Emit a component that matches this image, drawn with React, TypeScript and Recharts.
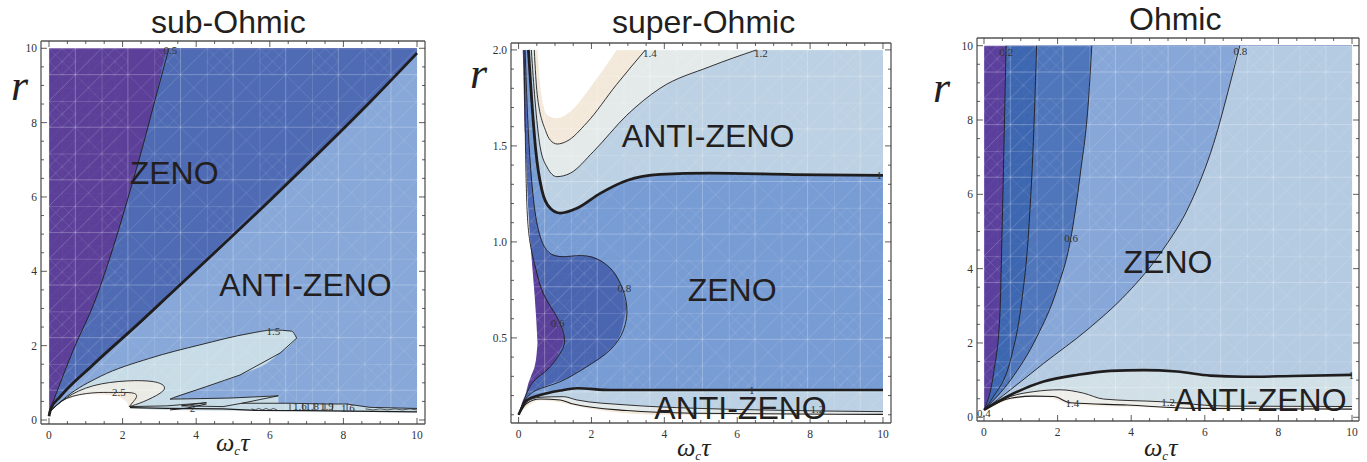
import React from 'react';
import { ComposedChart, Area, Line, XAxis, YAxis, ReferenceDot } from 'recharts';

type Curve = number[][];

const xTicks = [0, 0.5, 1, 1.5, 2, 2.5, 3, 3.5, 4, 4.5, 5, 5.5, 6, 6.5, 7, 7.5, 8, 8.5, 9, 9.5, 10];
const xMajor = [0, 2, 4, 6, 8, 10];
const superYTicks = [0.1, 0.2, 0.3, 0.4, 0.5, 0.6, 0.7, 0.8, 0.9, 1, 1.1, 1.2, 1.3, 1.4, 1.5, 1.6, 1.7, 1.8, 1.9, 2];
const superYMajor = [0.5, 1, 1.5, 2];

// sub-Ohmic contours
const subC05: Curve = [[0, 0.2], [0.2, 0.72], [0.66, 1.88], [1.26, 3.23], [1.75, 4.66], [2.29, 6.46], [2.47, 7.08], [2.88, 8.6], [3.26, 10]];
const subC1: Curve = [[0, 0.1], [0.05, 0.3], [0.3, 0.62], [1.17, 1.46], [2.53, 2.68], [3.2, 3.3], [6.1, 6], [8.77, 8.6], [10, 9.87]];
const subC15Top: Curve = [[0, 0.2], [0.48, 0.63], [1.39, 1.17], [2.74, 1.66], [4.1, 2.02], [5.46, 2.33], [6.1, 2.42], [6.59, 2.39], [6.73, 2.2]];
const subC15Low: Curve = [[6.73, 2.2], [6.28, 1.8], [5.19, 1.21], [4.78, 1.07], [4.28, 0.9], [3.38, 0.6], [3.29, 0.56], [4.92, 0.59], [6.23, 0.65], [5.24, 0.45]];
const subInlet: Curve = [[3.29, 0.56, 0.56], [3.38, 0.565, 0.6], [4.28, 0.58, 0.9], [5.19, 0.6, 1.21], [6.23, 0.65, 1.77], [6.24, 0.45, 1.78], [6.46, 0.45, 1.93], [6.73, 0.45, 2.2]];
const subC2: Curve = [[0, 0.2], [0.48, 0.6], [1.2, 0.92], [2.11, 1.05], [2.84, 1.03], [3.13, 0.9], [3.02, 0.72], [2.56, 0.49], [2.18, 0.36]];
const subC2Fill: Curve = [[0, 0.2, 0.2], [0.48, 0.4, 0.6], [1.2, 0.5, 0.92], [2.11, 0.36, 1.05], [2.18, 0.36, 1.06], [2.56, 0.49, 1.05], [2.84, 0.63, 1.03], [3.02, 0.72, 0.97], [3.13, 0.9, 0.9]];
const subC25: Curve = [[0, 0.2], [0.48, 0.58], [1.2, 0.73], [1.75, 0.74], [2.25, 0.73], [2.38, 0.63], [2.29, 0.49], [2.18, 0.36]];
const subC25Fill: Curve = [[0, 0.2, 0.2], [1.2, 0.5, 0.73], [1.75, 0.5, 0.74], [2.18, 0.36, 0.73], [2.29, 0.49, 0.72], [2.38, 0.63, 0.63]];
const subStripTop: Curve = [[2.2, 0.36], [3.2, 0.38], [4.28, 0.465], [3.6, 0.38], [4.73, 0.36], [5.24, 0.45], [6.55, 0.45], [7.55, 0.43], [8.09, 0.43], [8.72, 0.34], [10, 0.31]];
const subStripFill: Curve = [[2.2, 0.36], [3.2, 0.38], [4.28, 0.44], [5.24, 0.45], [6.55, 0.45], [7.55, 0.43], [8.09, 0.43], [8.72, 0.34], [10, 0.31]];
const subStripLow: Curve = [[2.2, 0.33], [3.2, 0.31], [4.73, 0.3], [5.6, 0.26], [7, 0.25], [10, 0.22]];
const subIsland: Curve = [[3.29, 0.27], [3.75, 0.32], [4.28, 0.43]];
const subWigA: Curve = [[5.5, 0.3], [5.6, 0.27], [5.7, 0.31], [5.8, 0.27], [5.9, 0.31], [6, 0.27], [6.1, 0.31], [6.2, 0.27]];
const subWigB: Curve = [[8.6, 0.3], [8.8, 0.27], [9, 0.3], [9.2, 0.27], [9.4, 0.3], [9.6, 0.27], [9.8, 0.3], [10, 0.27]];
const subStems = [6.55, 6.9, 7.2, 7.5, 7.7, 8.1];
const subWhite: Curve = [[0, 0.18], [0.48, 0.55], [1.2, 0.69], [1.75, 0.65], [2.1, 0.5], [2.2, 0.33], [3.2, 0.27], [5, 0.25], [7, 0.23], [10, 0.2]];

// super-Ohmic contours
const supTan: Curve = [[0.52, 2], [0.62, 1.774], [0.79, 1.661], [1.05, 1.644], [1.42, 1.679], [2.05, 1.826], [2.69, 2]];
const supC14: Curve = [[0.43, 2], [0.51, 1.77], [0.74, 1.58], [0.87, 1.53], [1.06, 1.51], [1.32, 1.524], [1.87, 1.62], [2.69, 1.82], [3.48, 2]];
const supC12: Curve = [[0.35, 2], [0.45, 1.74], [0.59, 1.497], [0.78, 1.39], [1.05, 1.34], [1.42, 1.358], [2.05, 1.47], [2.97, 1.66], [3.88, 1.8], [5.25, 1.913], [6.53, 2]];
const supC1: Curve = [[0.27, 2], [0.36, 1.74], [0.47, 1.48], [0.64, 1.27], [0.87, 1.175], [1.14, 1.15], [1.6, 1.175], [2.24, 1.253], [2.97, 1.32], [3.88, 1.352], [5.25, 1.358], [7.53, 1.351], [10, 1.347]];
const supC08: Curve = [[0.18, 2], [0.27, 1.566], [0.41, 1.22], [0.59, 1.03], [0.87, 0.94], [1.32, 0.924], [1.87, 0.927], [2.42, 0.88], [2.79, 0.785], [2.97, 0.663], [2.88, 0.542], [2.51, 0.437], [1.87, 0.35], [1.14, 0.272], [0.5, 0.229], [0.15, 0.17], [0, 0.1]];
const supC08Fill: Curve = [[0, 0.1, 0.1], [0.15, 0.17, 2], [0.27, 0.2, 1.566], [0.5, 0.229, 1.11], [0.87, 0.26, 0.94], [1.32, 0.29, 0.924], [1.87, 0.35, 0.927], [2.42, 0.425, 0.88], [2.79, 0.52, 0.785], [2.97, 0.663, 0.663]];
const supC06: Curve = [[0.15, 2], [0.2, 1.39], [0.28, 1.045], [0.46, 0.87], [0.68, 0.73], [1.05, 0.61], [1.26, 0.498], [1.14, 0.42], [0.78, 0.333], [0.37, 0.264], [0.12, 0.16], [0, 0.1]];
const supC06Fill: Curve = [[0, 0.1, 0.1], [0.1, 0.15, 2], [0.15, 0.18, 2], [0.2, 0.21, 1.39], [0.28, 0.24, 1.045], [0.46, 0.28, 0.87], [0.78, 0.333, 0.7], [1.05, 0.4, 0.61], [1.26, 0.498, 0.498]];
const supWedge: Curve = [[-0.05, 0.05, 2.03], [0, 0.09, 2.03], [0.1, 0.165, 2.03], [0.18, 0.2, 1.566], [0.27, 0.264, 1.15], [0.34, 0.3, 0.958], [0.48, 0.39, 0.61], [0.52, 0.472, 0.472]];
const supLowC1: Curve = [[0, 0.1], [0.23, 0.177], [0.59, 0.203], [1.14, 0.226], [1.6, 0.238], [2.51, 0.229], [10, 0.229]];
const supLowC12: Curve = [[0, 0.1], [0.23, 0.168], [0.59, 0.191], [1.23, 0.194], [1.6, 0.177], [2.97, 0.151], [4.79, 0.134], [6.62, 0.125], [10, 0.116]];
const supLowC14: Curve = [[0, 0.1], [0.23, 0.16], [0.59, 0.182], [1.14, 0.177], [1.5, 0.156], [2.97, 0.122], [4.79, 0.108], [10, 0.102]];
const supLowWhite: Curve = [[0, 0.1], [0.59, 0.174], [1.14, 0.165], [1.5, 0.148], [2.97, 0.108], [3.88, 0.1], [10, 0.1]];

// Ohmic contours
const ohmC02: Curve = [[0, 0.2], [0.26, 1.18], [0.43, 2.71], [0.49, 4.95], [0.55, 7.64], [0.6, 10]];
const ohmC04: Curve = [[0, 0.2], [0.26, 0.56], [0.72, 1.54], [1.03, 3.16], [1.21, 4.95], [1.35, 7.64], [1.43, 10]];
const ohmC06: Curve = [[0, 0.2], [0.72, 1], [1.44, 2.17], [1.98, 3.43], [2.35, 4.77], [2.62, 6.57], [2.84, 8.54], [2.93, 10]];
const ohmC08: Curve = [[0, 0.2], [0.72, 0.74], [1.62, 1.45], [2.8, 2.35], [3.89, 3.34], [4.79, 4.41], [5.61, 5.76], [6.24, 7.37], [6.69, 8.99], [6.95, 10]];
const ohmC1: Curve = [[0, 0.2], [0.72, 0.6], [1.62, 0.96], [2.53, 1.14], [3.43, 1.25], [4.34, 1.27], [5.24, 1.23], [6.15, 1.12], [7.06, 1.09], [8.41, 1.11], [10, 1.14]];
const ohmC12: Curve = [[0, 0.2], [0.72, 0.56], [1.35, 0.69], [2.07, 0.74], [2.7, 0.65], [3.25, 0.49], [4.79, 0.42], [6.6, 0.3], [10, 0.29]];
const ohmC14: Curve = [[0, 0.2], [0.72, 0.51], [1.35, 0.57], [1.89, 0.56], [2.35, 0.39], [3.89, 0.33], [5.7, 0.24], [10, 0.22]];
const ohmWhite: Curve = [[0, 0.15], [0.72, 0.47], [1.44, 0.55], [1.89, 0.5], [2.26, 0.36], [3.5, 0.29], [10, 0.2]];

const toPoints = (c: Curve) => c.map(([x, y]) => ({ x, y }));
const under = (c: Curve, floor: number) => c.map(([x, y]) => ({ x, band: [floor, y] }));
const over = (c: Curve, ceil: number) => c.map(([x, y]) => ({ x, band: [y, ceil] }));
const between = (c: Curve) => c.map(([x, lo, hi]) => ({ x, band: [lo, hi] }));
const toRight = (c: Curve, top: number) => [...c, [10, top]];
const rect = (x0: number, x1: number, lo: number, hi: number) => [{ x: x0, band: [lo, hi] }, { x: x1, band: [lo, hi] }];

const serif = '"Liberation Serif", serif';
const sans = '"Liberation Sans", sans-serif';
const ink = '#231f20';

function fill(data: { x: number; band: number[] }[], color: string) {
  return (
    <Area data={data} dataKey="band" type="monotone" stroke="none" fill={color} fillOpacity={1}
      dot={false} activeDot={false} isAnimationActive={false} />
  );
}

function contour(c: Curve, width = 0.9, type: any = 'monotone') {
  return (
    <Line data={toPoints(c)} dataKey="y" type={type} stroke="#1f1d1e" strokeWidth={width}
      dot={false} activeDot={false} isAnimationActive={false} />
  );
}

function heading(x: number, y: number, text: string) {
  return (
    <ReferenceDot x={x} y={y} r={0.5} fill="none" stroke="none"
      label={{ value: text, position: 'center', fontSize: 32, fontFamily: sans, fill: ink }} />
  );
}

function tag(x: number, y: number, text: string) {
  return (
    <ReferenceDot x={x} y={y} r={0.5} fill="none" stroke="none"
      label={{ value: text, position: 'center', fontSize: 11, fontFamily: serif, fill: '#333' }} />
  );
}

function Tick({ x, y, payload, side, major, fmt }: any) {
  const v = payload.value;
  const isMajor = major.includes(v);
  const len = isMajor ? 6 : 3;
  const lbl = fmt ? fmt(v) : String(v);
  const vertical = side === 'top' || side === 'bottom';
  const dir = side === 'top' || side === 'left' ? 1 : -1;
  const line = vertical
    ? <line x1={x} x2={x} y1={y} y2={y + dir * len} stroke="#333" strokeWidth={0.8} />
    : <line x1={x} x2={x + dir * len} y1={y} y2={y} stroke="#333" strokeWidth={0.8} />;
  return (
    <g>
      {line}
      {isMajor && side === 'bottom' && (
        <text x={x} y={y + 15} textAnchor="middle" fontSize={11.5} fontFamily={serif} fill="#333">{lbl}</text>
      )}
      {isMajor && side === 'left' && (
        <text x={x - 4} y={y + 4} textAnchor="end" fontSize={11.5} fontFamily={serif} fill="#333">{lbl}</text>
      )}
    </g>
  );
}

// the white seams of the rendered triangle mesh: a coarse grid everywhere, a finer one near the left edge
function Mesh({ id, ox, oy }: { id: string; ox: number; oy: number }) {
  const s = { stroke: '#fff', fill: 'none' };
  return (
    <defs>
      <pattern id={id} width={52.6} height={52.6} patternUnits="userSpaceOnUse" patternTransform={`translate(${ox} ${oy})`}>
        <path d="M0 0V52.6 M26.3 0V52.6 M0 0H52.6 M0 26.3H52.6" {...s} strokeOpacity={0.28} strokeWidth={0.9} />
        <path d="M0 52.6L52.6 0 M0 26.3L26.3 0 M26.3 52.6L52.6 26.3" {...s} strokeOpacity={0.22} strokeWidth={0.7} />
        <path d="M0 0L26.3 26.3 M26.3 26.3L52.6 52.6 M13.15 0L26.3 13.15L13.15 26.3L0 13.15Z" {...s} strokeOpacity={0.16} strokeWidth={0.7} />
      </pattern>
      <pattern id={`${id}Fine`} width={13.15} height={13.15} patternUnits="userSpaceOnUse" patternTransform={`translate(${ox} ${oy})`}>
        <path d="M0 0V13.15 M0 0H13.15 M0 13.15L13.15 0" {...s} strokeOpacity={0.09} strokeWidth={0.6} />
      </pattern>
    </defs>
  );
}

function Panel({ left, top, w, h, xDomain, yDomain, yTicks, yMajor, yFmt, id, ox, oy, children }: any) {
  const tickFor = (side: string, major: number[], fmt?: any) => (p: any) => <Tick {...p} side={side} major={major} fmt={fmt} />;
  return (
    <div style={{ position: 'absolute', left: left - 40, top: top - 10 }}>
      <ComposedChart width={w + 60} height={h + 40} margin={{ top: 0, right: 10, bottom: 0, left: 10 }}>
        <Mesh id={id} ox={ox} oy={oy} />
        <XAxis dataKey="x" type="number" domain={xDomain} ticks={xTicks} allowDataOverflow interval={0}
          height={30} tickSize={0} tickMargin={0} tickLine={false} stroke="#555" strokeWidth={1.3}
          tick={tickFor('bottom', xMajor)} />
        <XAxis xAxisId="top" orientation="top" dataKey="x" type="number" domain={xDomain} ticks={xTicks} allowDataOverflow interval={0}
          height={10} tickSize={0} tickMargin={0} tickLine={false} stroke="#555" strokeWidth={1.3}
          tick={tickFor('top', xMajor)} />
        <YAxis type="number" domain={yDomain} ticks={yTicks} allowDataOverflow interval={0}
          width={30} tickSize={0} tickMargin={0} tickLine={false} stroke="#555" strokeWidth={1.3}
          tick={tickFor('left', yMajor, yFmt)} />
        <YAxis yAxisId="right" orientation="right" type="number" domain={yDomain} ticks={yTicks} allowDataOverflow interval={0}
          width={10} tickSize={0} tickMargin={0} tickLine={false} stroke="#555" strokeWidth={1.3}
          tick={tickFor('right', yMajor, yFmt)} />
        {children}
      </ComposedChart>
    </div>
  );
}

function SubOhmic() {
  return (
    <Panel left={41} top={41} w={384} h={383} xDomain={[-0.217, 10.217]} yDomain={[-0.108, 10.196]}
      yTicks={xTicks} yMajor={xMajor} id="meshA" ox={48} oy={17.3}>
      {fill(rect(0, 10, 0, 10), '#5b3f98')}
      {fill(under(toRight(subC05, 10), 0), '#4e6bb4')}
      {fill(under(subC1, 0), '#87a8d8')}
      {fill(under(subC15Top, 0), '#c7dce6')}
      {fill(between(subInlet), '#87a8d8')}
      {fill(under(subStripFill, 0), '#c7dce6')}
      {fill(between(subC2Fill), '#ebebe6')}
      {fill(between(subC25Fill), '#f1e9dd')}
      {fill(under(subWhite, -0.1), '#ffffff')}
      {fill(rect(0, 10, 0, 10), 'url(#meshA)')}
      {fill(rect(0, 2, 0, 10), 'url(#meshAFine)')}
      {contour(subC05)}
      {contour(subC1, 2.8)}
      {contour(subC15Top)}
      {contour(subC15Low, 0.9, 'linear')}
      {contour(subC2, 0.9, 'natural')}
      {contour(subC25, 0.9, 'natural')}
      {contour(subStripTop, 0.9, 'linear')}
      {contour(subStripLow, 1.2, 'linear')}
      {contour(subIsland, 1, 'linear')}
      {contour(subWigA, 0.7, 'linear')}
      {contour(subWigB, 0.7, 'linear')}
      {subStems.map(x => (
        <Line key={x} data={toPoints([[x, 0.44], [x, 0.25]])} dataKey="y" stroke="#1f1d1e" strokeWidth={0.8}
          dot={false} activeDot={false} isAnimationActive={false} />
      ))}
      {heading(3.4, 6.65, 'ZENO')}
      {heading(6.97, 3.63, 'ANTI-ZENO')}
      {tag(3.3, 9.94, '0.5')}
      {tag(6.1, 2.4, '1.5')}
      {tag(1.9, 0.74, '2.5')}
      {tag(3.9, 0.31, '2')}
      {tag(6.82, 0.38, '1.6')}
      {tag(7.15, 0.38, '1.8')}
      {tag(7.55, 0.38, '1.9')}
      {tag(8.12, 0.32, '1.6')}
    </Panel>
  );
}

function SuperOhmic() {
  return (
    <Panel left={511} top={43} w={380} h={380} xDomain={[-0.208, 10.22]} yDomain={[0.057, 2.036]}
      yTicks={superYTicks} yMajor={superYMajor} yFmt={(v: number) => v.toFixed(1)} id="meshB" ox={47.3} oy={17}>
      {fill(rect(0, 10, 0.1, 2), '#789cd4')}
      {fill(over(supC1, 2), '#bcd1e3')}
      {fill(over(supC12, 2), '#e4eaea')}
      {fill(over(supC14, 2), '#f3e9da')}
      {fill(over(supTan, 2), '#ffffff')}
      {fill(between(supC08Fill), '#4b66b1')}
      {fill(between(supC06Fill), '#5a409a')}
      {fill(between(supWedge), '#ffffff')}
      {fill(under(supLowC1, 0.1), '#bcd1e3')}
      {fill(under(supLowC12, 0.1), '#e4eaea')}
      {fill(under(supLowC14, 0.1), '#f3e9da')}
      {fill(under(supLowWhite, 0.06), '#ffffff')}
      {fill(rect(0, 10, 0.1, 2), 'url(#meshB)')}
      {fill(rect(0, 2, 0.1, 1.3), 'url(#meshBFine)')}
      {fill(rect(2, 10, 0.2, 0.3), 'url(#meshBFine)')}
      {contour(supC14)}
      {contour(supC12)}
      {contour(supC1, 2.8)}
      {contour(supC08, 0.9, 'natural')}
      {contour(supC06, 0.9, 'natural')}
      {contour(supLowC1, 2.6)}
      {contour(supLowC12)}
      {contour(supLowC14, 1.1)}
      {heading(5.2, 1.552, 'ANTI-ZENO')}
      {heading(5.86, 0.753, 'ZENO')}
      {heading(6.09, 0.138, 'ANTI-ZENO')}
      {tag(3.6, 1.985, '1.4')}
      {tag(6.65, 1.985, '1.2')}
      {tag(2.9, 0.76, '0.8')}
      {tag(1.07, 0.575, '0.6')}
      {tag(9.9, 1.347, '1')}
      {tag(6.4, 0.23, '1')}
      {tag(8.2, 0.13, '1.2')}
    </Panel>
  );
}

function Ohmic() {
  return (
    <Panel left={977} top={38} w={382} h={383} xDomain={[-0.19, 10.19]} yDomain={[-0.1, 10.207]}
      yTicks={xTicks} yMajor={xMajor} id="meshC" ox={47} oy={17.7}>
      {fill(rect(0, 10, 0, 10), '#5a3f9c')}
      {fill(under(toRight(ohmC02, 10), 0), '#3e67b1')}
      {fill(under(toRight(ohmC04, 10), 0), '#4f76bb')}
      {fill(under(toRight(ohmC06, 10), 0), '#87a7d8')}
      {fill(under(toRight(ohmC08, 10), 0), '#b5cbe2')}
      {fill(under(ohmC1, 0), '#d0e0e6')}
      {fill(under(ohmC12, 0), '#eeeeea')}
      {fill(under(ohmC14, 0), '#f5ede2')}
      {fill(under(ohmWhite, -0.1), '#ffffff')}
      {fill(rect(0, 10, 0, 10), 'url(#meshC)')}
      {fill(rect(0, 1.5, 0, 10), 'url(#meshCFine)')}
      {contour(ohmC02)}
      {contour(ohmC04)}
      {contour(ohmC06)}
      {contour(ohmC08)}
      {contour(ohmC1, 2.6)}
      {contour(ohmC12)}
      {contour(ohmC14, 1.1)}
      {heading(5, 4.18, 'ZENO')}
      {heading(7.51, 0.465, 'ANTI-ZENO')}
      {tag(0.6, 9.83, '0.2')}
      {tag(2.37, 4.83, '0.6')}
      {tag(6.97, 9.85, '0.8')}
      {tag(0, 0.1, '0.4')}
      {tag(2.4, 0.37, '1.4')}
      {tag(5, 0.41, '1.2')}
      {tag(9.98, 1.14, '1')}
    </Panel>
  );
}

function Caption({ x, y, size, italic, family, children }: any) {
  return (
    <div style={{
      position: 'absolute', left: x, top: y, fontSize: size, lineHeight: 1, color: ink, whiteSpace: 'nowrap',
      fontStyle: italic ? 'italic' : 'normal', fontFamily: family,
    }}>{children}</div>
  );
}

function OmegaTau({ x, y }: { x: number; y: number }) {
  return (
    <Caption x={x} y={y} size={26} italic family={serif}>
      ω<span style={{ fontSize: 13, position: 'relative', top: 4 }}>c</span>τ
    </Caption>
  );
}

export default function App() {
  return (
    <div style={{ position: 'absolute', left: 0, top: 0, width: 1367, height: 462, overflow: 'hidden', background: '#fff' }}>
      <SubOhmic />
      <SuperOhmic />
      <Ohmic />
      <Caption x={151} y={6} size={32} family={sans}>sub-Ohmic</Caption>
      <Caption x={612} y={6} size={32} family={sans}>super-Ohmic</Caption>
      <Caption x={1129} y={3} size={32} family={sans}>Ohmic</Caption>
      <Caption x={11} y={64} size={44} italic family={serif}>r</Caption>
      <Caption x={470} y={52} size={44} italic family={serif}>r</Caption>
      <Caption x={933} y={66} size={44} italic family={serif}>r</Caption>
      <OmegaTau x={216} y={430} />
      <OmegaTau x={677} y={435} />
      <OmegaTau x={1144} y={435} />
    </div>
  );
}
